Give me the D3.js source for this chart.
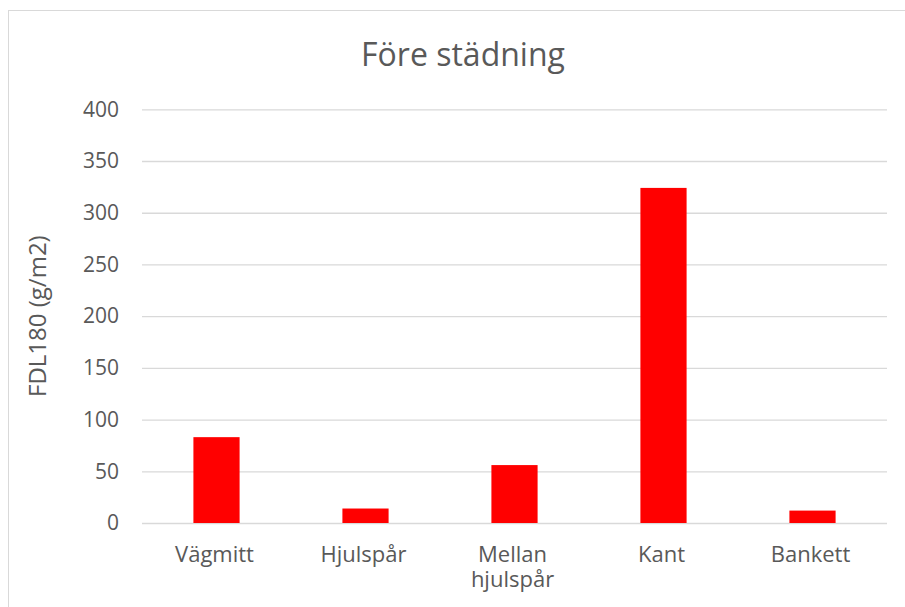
<!DOCTYPE html>
<html>
<head>
<meta charset="utf-8">
<script src="https://cdn.jsdelivr.net/npm/d3@7"></script>
<style>
  html, body { margin: 0; padding: 0; background: #fff; }
  svg text { font-family: "Open Sans", "Noto Sans", sans-serif; fill: #595959; }
</style>
</head>
<body>
<svg id="chart" width="905" height="607"></svg>
<script>
// Data
const categories = ["Vägmitt", "Hjulspår", "Mellan\nhjulspår", "Kant", "Bankett"];
const values = [83, 14, 56, 324, 12];
const yTicks = [0, 50, 100, 150, 200, 250, 300, 350, 400];
const chartTitle = "Före städning";
const yAxisTitle = "FDL180 (g/m2)";

const svg = d3.select("#chart");
const W = 905, H = 607;

// Chart area frame
svg.append("rect")
  .attr("x", 8.5).attr("y", 10.5)
  .attr("width", W + 10).attr("height", H + 10)
  .attr("fill", "none").attr("stroke", "#d9d9d9").attr("stroke-width", 1);

const plot = { left: 142, right: 887, top: 109.3, bottom: 523 };

const x = d3.scaleBand()
  .domain(categories)
  .range([plot.left, plot.right])
  .paddingInner(0.69)
  .paddingOuter(0.345);

const y = d3.scaleLinear()
  .domain([0, 400])
  .range([plot.bottom, plot.top]);

// Gridlines and tick labels
const yAxis = d3.axisLeft(y)
  .tickValues(yTicks)
  .tickSize(-(plot.right - plot.left))
  .tickPadding(23);

const gy = svg.append("g")
  .attr("transform", `translate(${plot.left},0)`)
  .call(yAxis);
gy.select(".domain").remove();
gy.selectAll(".tick line").attr("stroke", "#d9d9d9").attr("stroke-width", 1.3);
gy.selectAll(".tick text")
  .attr("font-size", 21)
  .attr("fill", "#595959")
  .style("font-family", "'Open Sans', sans-serif");

// Bars
svg.append("g")
  .selectAll("rect")
  .data(values)
  .join("rect")
  .attr("x", (d, i) => x(categories[i]))
  .attr("width", x.bandwidth())
  .attr("y", d => y(d))
  .attr("height", d => y(0) - y(d))
  .attr("fill", "#ff0000");

// Category labels
const xAxis = d3.axisBottom(x).tickSize(0).tickFormat("");
const gx = svg.append("g")
  .attr("transform", `translate(0,${plot.bottom})`)
  .call(xAxis);
gx.select(".domain").remove();
gx.selectAll(".tick").each(function(d) {
  const lines = d.split("\n");
  const t = d3.select(this).append("text")
    .attr("text-anchor", "middle")
    .attr("font-size", 22)
    .attr("fill", "#595959");
  lines.forEach((ln, k) => {
    t.append("tspan").attr("x", -2).attr("y", 39 + k * 25).text(ln);
  });
});

// Title
svg.append("text")
  .attr("x", 463).attr("y", 66)
  .attr("text-anchor", "middle")
  .attr("font-size", 32)
  .text(chartTitle);

// Y axis title
svg.append("text")
  .attr("transform", `translate(46,${(plot.top + plot.bottom) / 2}) rotate(-90)`)
  .attr("text-anchor", "middle")
  .attr("font-size", 24)
  .text(yAxisTitle);
</script>
</body>
</html>
